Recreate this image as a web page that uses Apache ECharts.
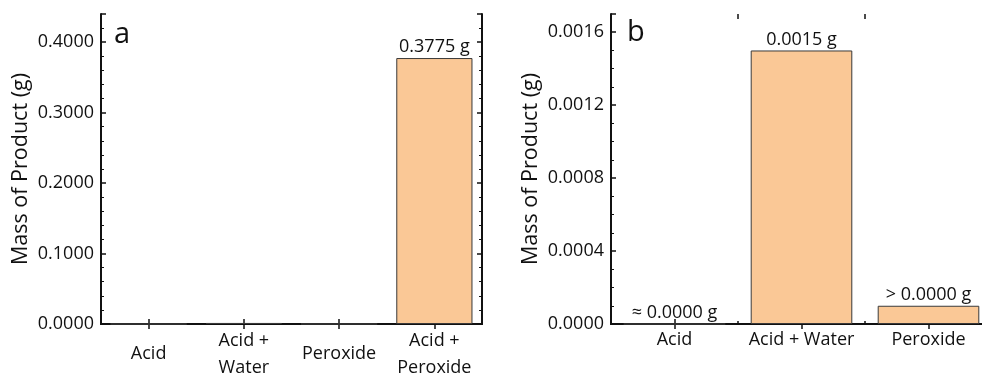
<!DOCTYPE html>
<html>
<head>
<meta charset="utf-8">
<script src="https://cdn.jsdelivr.net/npm/echarts@6/dist/echarts.min.js"></script>
<style>
  html, body { margin: 0; padding: 0; background: #fff; }
  #chart { width: 982px; height: 377px; }
</style>
</head>
<body>
<div id="chart"></div>
<script>
// panel a
const categoriesA = ['Acid', 'Acid +\nWater', 'Peroxide', 'Acid +\nPeroxide']
const massA = [0, 0.0015, 0.0001, 0.3775]
const labelsA = ['', '', '', '0.3775 g']
const ticksA = { min: 0, max: 0.44, interval: 0.1 }

// panel b
const categoriesB = ['Acid', 'Acid + Water', 'Peroxide']
const massB = [0, 0.0015, 0.0001]
const labelsB = ['≈ 0.0000 g', '0.0015 g', '> 0.0000 g']
const ticksB = { min: 0, max: 0.0017, interval: 0.0004 }

const font = 'Open Sans'
const ink = '#111'
const barFill = '#FAC896'
const fs = 18

const chart = echarts.init(document.getElementById('chart'), null, { renderer: 'canvas' })

function catAxis(grid, cats, pos, opts) {
  return Object.assign({
    type: 'category',
    gridIndex: grid,
    position: pos,
    data: cats,
    axisLine: { show: true, lineStyle: { color: ink, width: 2 } },
    axisTick: { show: true, inside: true, alignWithLabel: true, length: 5, lineStyle: { color: ink, width: 1.5 } },
    axisLabel: { show: false },
    splitLine: { show: false }
  }, opts || {})
}

function valAxis(grid, t, pos, showLabels, minorSplit) {
  return {
    type: 'value',
    gridIndex: grid,
    position: pos,
    min: t.min,
    max: t.max,
    interval: t.interval,
    name: showLabels ? 'Mass of Product (g)' : '',
    nameLocation: 'middle',
    nameGap: 69,
    nameTextStyle: { fontFamily: font, fontSize: 21.5, color: ink },
    axisLine: { show: true, lineStyle: { color: ink, width: 2 } },
    axisTick: { show: true, inside: true, length: 5, lineStyle: { color: ink, width: 1.5 } },
    minorTick: { show: true, splitNumber: minorSplit, length: 3, lineStyle: { color: ink, width: 1 } },
    axisLabel: {
      show: showLabels,
      showMaxLabel: false,
      fontFamily: font,
      fontSize: fs,
      color: ink,
      margin: 7,
      formatter: v => v.toFixed(4)
    },
    splitLine: { show: false }
  }
}

function barData(vals, labels) {
  return vals.map((v, i) => ({
    value: v,
    label: {
      show: labels[i] !== '',
      formatter: labels[i],
      position: 'top',
      distance: 2,
      fontFamily: font,
      fontSize: fs,
      color: ink
    }
  }))
}

const option = {
  animation: false,
  grid: [
    { left: 101, top: 14, width: 381, height: 310, outerBoundsMode: 'none', containLabel: false },
    { left: 611, top: 14, width: 381, height: 310, outerBoundsMode: 'none', containLabel: false }
  ],
  xAxis: [
    catAxis(0, categoriesA, 'bottom', {
      axisLabel: {
        show: true, fontFamily: font, fontSize: fs, color: ink,
        lineHeight: 27, verticalAlign: 'middle', margin: 30, interval: 0
      }
    }),
    catAxis(0, categoriesA, 'top'),
    catAxis(1, categoriesB, 'bottom', {
      axisLabel: {
        show: true, fontFamily: font, fontSize: fs, color: ink,
        verticalAlign: 'middle', margin: 16, interval: 0
      }
    }),
    catAxis(1, categoriesB, 'top'),
    // boundary ticks for panel b
    catAxis(1, categoriesB, 'bottom', {
      axisLine: { show: false },
      axisTick: { show: true, inside: true, alignWithLabel: false, length: 3, lineStyle: { color: ink, width: 1.5 } }
    }),
    catAxis(1, categoriesB, 'top', {
      axisLine: { show: false },
      axisTick: { show: true, inside: true, alignWithLabel: false, length: 5, lineStyle: { color: ink, width: 1.5 } }
    })
  ],
  yAxis: [
    valAxis(0, ticksA, 'left', true, 5),
    valAxis(0, ticksA, 'right', false, 5),
    valAxis(1, ticksB, 'left', true, 4),
    valAxis(1, ticksB, 'right', false, 4)
  ],
  series: [
    {
      type: 'bar',
      xAxisIndex: 0,
      yAxisIndex: 0,
      barWidth: '80%',
      data: barData(massA, labelsA),
      itemStyle: { color: barFill, borderColor: '#3a3a3a', borderWidth: 1 }
    },
    {
      type: 'bar',
      xAxisIndex: 2,
      yAxisIndex: 2,
      barWidth: '80%',
      data: barData(massB, labelsB),
      itemStyle: { color: barFill, borderColor: '#3a3a3a', borderWidth: 1 }
    }
  ],
  graphic: [
    { type: 'text', left: 114, top: 20, style: { text: 'a', fontFamily: font, fontSize: 29, fill: ink } },
    { type: 'text', left: 627, top: 18, style: { text: 'b', fontFamily: font, fontSize: 29, fill: ink } }
  ]
}

chart.setOption(option)
</script>
</body>
</html>
